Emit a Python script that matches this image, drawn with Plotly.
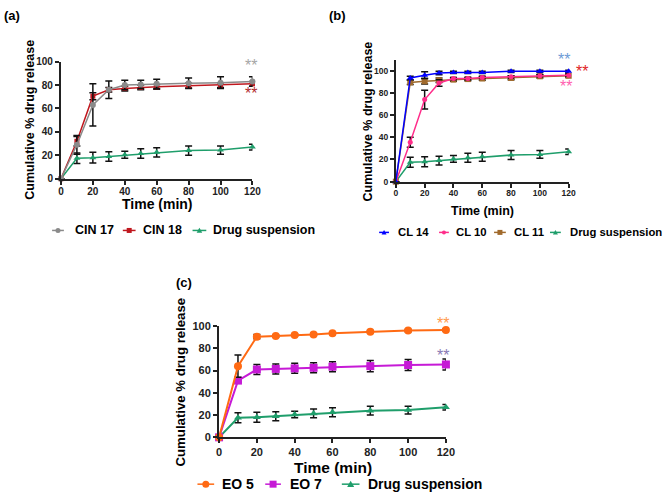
import plotly.graph_objects as go

# sampling times (min)
time = [0, 10, 20, 30, 40, 50, 60, 80, 100, 120]

# panel (a)
cin17 = [0, 29, 63, 76, 80, 80.5, 81, 81.5, 82, 83]
cin17_sd = [0, 8, 18, 7.5, 4, 3.5, 4, 4.5, 5, 4]
cin18 = [0, 32, 70.5, 76, 77, 78, 78.5, 79.5, 80, 81]
cin18_sd = [0, 4, 3, 2, 2, 2, 2, 2, 2, 2]

# drug suspension (same curve in every panel)
susp = [0, 17.5, 18, 19, 20.5, 21.5, 22.5, 24, 24.5, 27]
susp_sd = [0, 4.5, 4.5, 4, 3, 4, 4, 4, 3.5, 2.5]

# panel (b)
cl14 = [0, 93.5, 96, 98, 98.5, 98.5, 98.5, 99.5, 99.5, 99.5]
cl14_sd = [0, 1.5, 3, 1.5, 1, 1, 1, 1, 1, 1]
cl10 = [0, 35.5, 74, 89, 93, 93, 94, 94.5, 95.5, 96]
cl10_sd = [0, 4.5, 8.5, 3, 1, 1, 1, 1, 1, 1]
cl11 = [0, 89.5, 90.5, 91.5, 92, 92.5, 93, 93.5, 95, 95.5]
cl11_sd = [0, 2, 2.5, 2, 1.5, 1.5, 1.5, 1.5, 1.5, 1.5]

# panel (c)
eo5 = [0, 64, 90.5, 91, 92, 92.5, 93.5, 95, 96, 96.5]
eo5_sd = [0, 10, 2, 1, 1, 1, 1, 1, 1, 1]
eo7 = [0, 51, 61, 61.5, 62, 62.5, 63.5, 64, 65, 65.5]
eo7_sd = [0, 1.5, 4.5, 4.5, 4.5, 4.5, 4.5, 5, 5, 5]

xticks = [0, 20, 40, 60, 80, 100, 120]
yticks = [0, 20, 40, 60, 80, 100]

W, H = 670, 497
FONT = "Liberation Sans"
INK = "#222222"


def px(x):
    return x / W


def py(y):
    return 1 - y / H


fig = go.Figure()


def add_series(ax, y, sd, name, color, symbol, msize, lw):
    fig.add_trace(go.Scatter(
        x=time, y=y, name=name, mode="lines+markers",
        xaxis="x" + ax, yaxis="y" + ax, cliponaxis=False,
        line=dict(color=color, width=lw),
        marker=dict(symbol=symbol, size=msize, color=color),
        error_y=dict(type="data", array=sd, color="#111111", thickness=1.5, width=3.5),
    ))


GREEN = "#1f9e6b"

# (a)
add_series("", susp, susp_sd, "Drug suspension", GREEN, "triangle-up", 6, 1.5)
add_series("", cin18, cin18_sd, "CIN 18", "#c0171e", "square", 5, 1.5)
add_series("", cin17, cin17_sd, "CIN 17", "#8a8a8a", "circle", 6, 1.5)
# (b)
add_series("2", susp, susp_sd, "Drug suspension", GREEN, "triangle-up", 6, 1.5)
add_series("2", cl11, cl11_sd, "CL 11", "#a06a2c", "square", 6, 1.5)
add_series("2", cl10, cl10_sd, "CL 10", "#ff2d8a", "circle", 5, 1.5)
add_series("2", cl14, cl14_sd, "CL 14", "#0000ff", "triangle-up", 6, 1.5)
# (c)
add_series("3", susp, susp_sd, "Drug suspension", GREEN, "triangle-up", 7, 2)
add_series("3", eo7, eo7_sd, "EO 7", "#c61ad6", "square", 8, 2)
add_series("3", eo5, eo5_sd, "EO 5", "#ff6a13", "circle", 8, 2)


def axis(dom, rng, vals, tsize, anchor, standoff=0):
    return dict(domain=dom, range=rng, tickvals=vals, anchor=anchor,
                showline=True, linecolor=INK, linewidth=2,
                ticks="outside", ticklen=4, tickwidth=2, tickcolor=INK,
                ticklabelstandoff=standoff,
                showgrid=False, zeroline=False,
                tickfont=dict(family=FONT, size=tsize, color=INK, weight="bold"))


fig.update_layout(
    xaxis=axis([px(59), px(254)], [0, 120], xticks, 10, "y", -2),
    yaxis=axis([py(177), py(57)], [0, 100], yticks, 10, "x"),
    xaxis2=axis([px(400), px(576)], [0, 120], xticks, 8.5, "y2", -2),
    yaxis2=axis([py(180), py(55)], [0, 110], yticks, 8.5, "x2"),
    xaxis3=axis([px(220), px(451)], [0, 120], xticks, 11, "y3", -1),
    yaxis3=axis([py(442), py(328)], [0, 100], yticks, 11, "x3"),
)


def text(x, y, s, size, angle=0, color="black", xanchor="center", weight="bold"):
    fig.add_annotation(x=px(x), y=py(y), xref="paper", yref="paper", text=s,
                       showarrow=False, textangle=angle, xanchor=xanchor, yanchor="middle",
                       font=dict(family=FONT, size=size, color=color, weight=weight))


# panel letters
text(9, 10, "(a)", 13)
text(341, 10, "(b)", 13)
text(184, 283, "(c)", 13)

# axis titles
text(28, 116, "Cumulative % drug release", 12.5, angle=-90)
text(372, 118, "Cumulative % drug release", 12.5, angle=-90)
text(181, 385, "Cumulative % drug release", 13.2, angle=-90)
text(157, 203, "Time (min)", 14)
text(488, 210, "Time (min)", 12.5)
text(336, 473, "Time (min)", 15.5)


# significance marks
def stars(ax, xv, yv, xmax, ymax, color, shift):
    fig.add_annotation(x=xv / xmax, y=yv / ymax, xref="x%s domain" % ax, yref="y%s domain" % ax,
                       text="**", showarrow=False, xanchor="center", yanchor="middle", yshift=shift,
                       font=dict(family=FONT, size=16, color=color))


stars("", 118.8, 95, 120, 100, "#a6a6a6", 2)
stars("", 118.8, 71.5, 120, 100, "#b22c2c", 1)
stars("2", 117, 108, 120, 110, "#6d9bd6", 2)
stars("2", 129.5, 97.7, 120, 110, "#e02424", 2)
stars("2", 118, 84, 120, 110, "#ff5fb0", 2)
stars("3", 118.6, 105.5, 120, 100, "#ff9a4d", -4)
stars("3", 118.6, 77, 120, 100, "#8a7bb5", -4)


# legends
def key(x0, x1, y, color, shape, r):
    fig.add_shape(type="line", xref="paper", yref="paper", x0=px(x0), x1=px(x1),
                  y0=py(y), y1=py(y), line=dict(color=color, width=1.5))
    common = dict(xref="paper", yref="paper", xsizemode="pixel", ysizemode="pixel",
                  xanchor=px((x0 + x1) / 2), yanchor=py(y), fillcolor=color, line_width=0)
    if shape == "triangle":
        fig.add_shape(type="path", path="M%g,%g L%g,%g L0,%g Z" % (-r, -r * 0.8, r, -r * 0.8, r), **common)
    else:
        fig.add_shape(type=shape, x0=-r, x1=r, y0=-r, y1=r, **common)


def legend(entries, y, size):
    for name, color, shape, r, k0, k1, tx in entries:
        key(k0, k1, y, color, shape, r)
        text(tx, y, name, size, xanchor="left")


legend([
    ("CIN 17", "#8a8a8a", "circle", 2.5, 50, 62, 71),
    ("CIN 18", "#c0171e", "rect", 2.5, 122, 135, 141),
    ("Drug suspension", GREEN, "triangle", 2.8, 193, 207, 212),
], 230, 12.5)

legend([
    ("CL 14", "#0000ff", "triangle", 2.5, 383, 393, 400),
    ("CL 10", "#ff2d8a", "circle", 2, 444, 454, 459),
    ("CL 11", "#a06a2c", "rect", 2.5, 500, 512, 518),
    ("Drug suspension", GREEN, "triangle", 2.5, 557, 568, 575),
], 232, 11.3)

legend([
    ("EO 5", "#ff6a13", "circle", 3.5, 198, 215, 221),
    ("EO 7", "#c61ad6", "rect", 3.5, 267, 283, 290),
    ("Drug suspension", GREEN, "triangle", 3.5, 345, 363, 370),
], 490, 14)

fig.update_layout(
    width=W, height=H, margin=dict(l=0, r=0, t=0, b=0),
    paper_bgcolor="white", plot_bgcolor="white", showlegend=False,
    font=dict(family=FONT, color=INK),
)

# drop the browser's default 8px body margin so the figure fills the window
fig.write_html("out.html", config={"displayModeBar": False},
               post_script="document.body.style.margin='0';")
